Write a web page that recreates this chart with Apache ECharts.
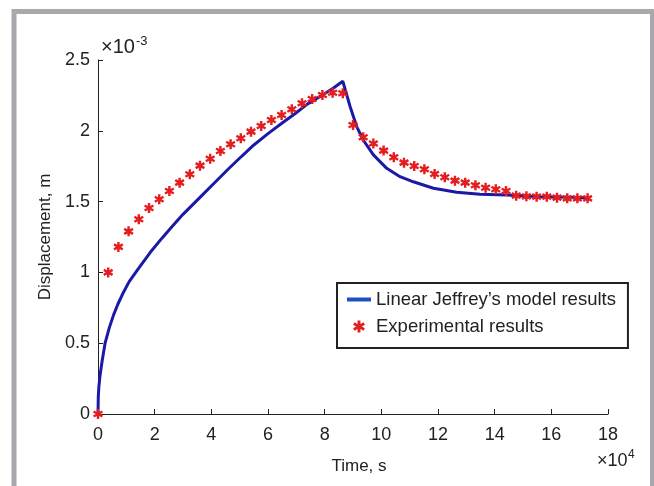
<!DOCTYPE html>
<html>
<head>
<meta charset="utf-8">
<script src="https://cdn.jsdelivr.net/npm/echarts@6/dist/echarts.min.js"></script>
<style>
html,body{margin:0;padding:0;background:#fff;}
#chart{width:654px;height:486px;}
</style>
</head>
<body>
<div id="chart"></div>
<script>
// Time in units of 1e4 s, displacement in units of 1e-3 m
const expTime = [0,0.36,0.72,1.08,1.44,1.8,2.16,2.52,2.88,3.24,3.6,3.96,4.32,4.68,5.04,5.4,5.76,6.12,6.48,6.84,7.2,7.56,7.92,8.28,8.64,
  9.0,9.36,9.72,10.08,10.44,10.8,11.16,11.52,11.88,12.24,12.6,12.96,13.32,13.68,14.04,14.4,14.76,15.12,15.48,15.84,16.2,16.56,16.92,17.28];
const expDisp = [0,1.0,1.18,1.29,1.375,1.455,1.516,1.575,1.634,1.693,1.754,1.803,1.857,1.905,1.947,1.994,2.034,2.076,2.112,2.152,2.194,2.225,2.253,2.269,2.265,
  2.041,1.954,1.91,1.86,1.813,1.775,1.751,1.728,1.695,1.672,1.648,1.634,1.615,1.598,1.587,1.575,1.542,1.537,1.535,1.535,1.528,1.523,1.523,1.523];
const modelTime = [0,0.01,0.03,0.07,0.15,0.25,0.4,0.55,0.7,0.9,1.1,1.4,1.84,2.25,2.6,3.0,3.6,4.15,4.6,5.07,5.5,6.0,6.5,6.95,7.4,7.9,8.3,8.64,
  8.9,9.13,9.36,9.72,10.19,10.66,11.13,11.84,12.66,13.48,14.43,15.6,16.78,17.28];
const modelDisp = [0,0.12,0.19,0.27,0.38,0.50,0.61,0.70,0.775,0.86,0.935,1.02,1.14,1.24,1.32,1.41,1.53,1.64,1.73,1.82,1.90,1.98,2.055,2.12,2.19,2.25,2.30,2.35,
  2.17,2.03,1.935,1.83,1.735,1.676,1.64,1.594,1.566,1.552,1.547,1.535,1.53,1.528];
const xTickLabels = ['0','2','4','6','8','10','12','14','16','18'];
const yTickLabels = ['0','0.5','1','1.5','2','2.5'];
const seriesNames = ['Linear Jeffrey\u2019s model results','Experimental results'];

const FONT = 'Liberation Sans, Arial, sans-serif';
const TXT = '#222';
const star = 'path://M-1.2,-5L-1.2,5L1.2,5L1.2,-5Z' +
  'M-4.93,-1.461L3.73,3.539L4.93,1.461L-3.73,-3.539Z' +
  'M3.73,-3.539L-4.93,1.461L-3.73,3.539L4.93,-1.461Z';

const chart = echarts.init(document.getElementById('chart'), null, {renderer:'canvas'});
chart.setOption({
  animation:false,
  backgroundColor:'#fff',
  grid:{left:98, top:60, right:46, bottom:72, containLabel:false},
  xAxis:{type:'value', min:0, max:18, interval:2,
    axisLine:{show:true, onZero:false, lineStyle:{color:'#222', width:1}},
    axisTick:{show:true, inside:true, length:5, lineStyle:{color:'#222'}},
    axisLabel:{color:TXT, fontSize:18, fontFamily:FONT, margin:12,
      formatter:(v)=>xTickLabels[Math.round(v/2)]},
    splitLine:{show:false}},
  yAxis:{type:'value', min:0, max:2.5, interval:0.5,
    axisLine:{show:true, onZero:false, lineStyle:{color:'#222', width:1}},
    axisTick:{show:true, inside:true, length:5, lineStyle:{color:'#222'}},
    axisLabel:{color:TXT, fontSize:18, fontFamily:FONT, margin:8,
      formatter:(v)=>yTickLabels[Math.round(v/0.5)]},
    splitLine:{show:false}},
  legend:{
    left:337, top:283, orient:'vertical',
    backgroundColor:'#fff', borderColor:'#222', borderWidth:2,
    padding:[7,12,12,10], itemGap:8, itemWidth:24, itemHeight:12,
    symbolKeepAspect:true,
    textStyle:{fontSize:18.5, fontFamily:FONT, color:TXT},
    data:[{name:seriesNames[0], icon:'path://M0,-2L24,-2L24,2L0,2Z', itemStyle:{color:'#1f4fc0'}},
          {name:seriesNames[1]}]
  },
  series:[
    {name:seriesNames[0], type:'line', showSymbol:false, symbol:'none',
     data:modelTime.map((t,i)=>[t,modelDisp[i]]),
     lineStyle:{color:'#1a1aa6', width:3}, itemStyle:{color:'#1f4fc0'}, z:2},
    {name:seriesNames[1], type:'scatter', symbol:star, symbolSize:10,
     data:expTime.map((t,i)=>[t,expDisp[i]]),
     itemStyle:{color:'#e41e20', opacity:1}, z:3}
  ],
  graphic:[
    {type:'rect', shape:{x:14, y:11.5, width:638.5, height:520}, style:{fill:null, stroke:'#a7a9ac', lineWidth:5}, silent:true},
    {type:'text', x:101, y:47, style:{text:'\u00d710', fontSize:20, fontFamily:FONT, fill:TXT, verticalAlign:'middle'}},
    {type:'text', x:136, y:41, style:{text:'-3', fontSize:13, fontFamily:FONT, fill:TXT, verticalAlign:'middle'}},
    {type:'text', x:597, y:461, style:{text:'\u00d710', fontSize:18, fontFamily:FONT, fill:TXT, verticalAlign:'middle'}},
    {type:'text', x:628, y:455, style:{text:'4', fontSize:12, fontFamily:FONT, fill:TXT, verticalAlign:'middle'}},
    {type:'text', x:359, y:466, style:{text:'Time, s', fontSize:17, fontFamily:FONT, fill:TXT, align:'center', verticalAlign:'middle'}},
    {type:'text', x:45, y:237, rotation:Math.PI/2, style:{text:'Displacement, m', fontSize:17, fontFamily:FONT, fill:TXT, align:'center', verticalAlign:'middle'}}
  ]
});
</script>
</body>
</html>
